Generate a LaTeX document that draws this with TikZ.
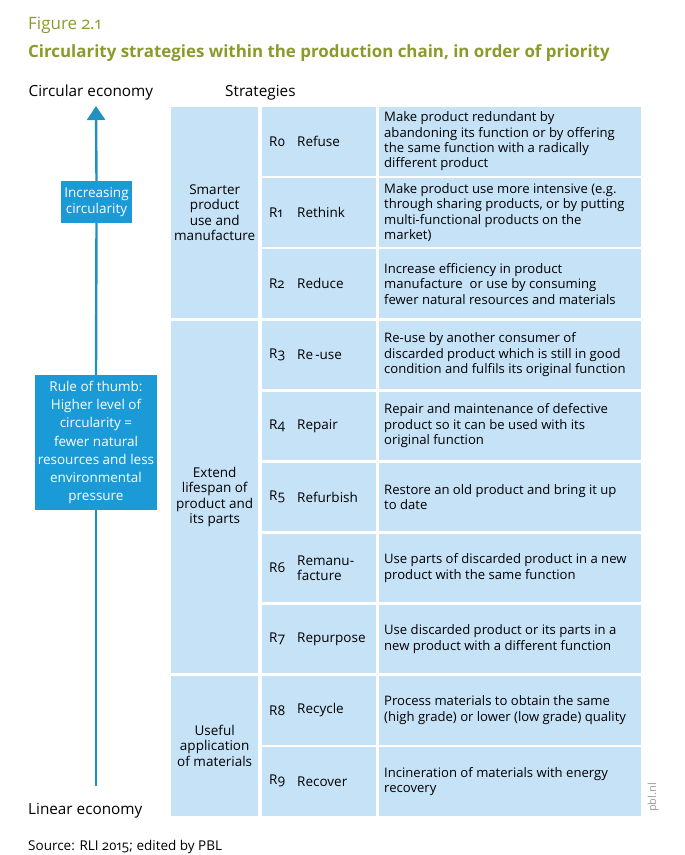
\documentclass[tikz,border=0pt]{standalone}
\usepackage{fontspec}
\setmainfont{Open Sans}[Numbers=OldStyle]
\usetikzlibrary{arrows.meta}
\definecolor{cellblue}{HTML}{C6E2F7}
\definecolor{boxblue}{HTML}{1A9AD6}
\definecolor{arrowblue}{HTML}{2390C2}
\definecolor{olivetxt}{HTML}{8C9A2C}
\definecolor{graytxt}{HTML}{9A9A9A}
\newcommand{\bodyfont}{\fontsize{13.5}{15.5}\selectfont}
\newcommand{\descfont}{\fontsize{13.1}{15.4}\selectfont}
\newcommand{\rrow}[5]{%
  \node[namecell] (n#1) at (261.5,#2) {};
  \node[rlab] (rn#1) at ([xshift=7.5pt]n#1.west) {R#3};
  \node[rlab, align=left] (rt#1) at ([xshift=35.5pt]n#1.west) {#4};
  \node[desccell] (d#1) at (379,#2) {};
  \node[desctext] (dt#1) at ([xshift=5pt]d#1.west) {#5};
}
\begin{document}
\begin{tikzpicture}[x=1pt,y=-1pt,
  cell/.style={fill=cellblue, draw=none, anchor=north west, inner sep=0pt, minimum height=68.5pt},
  groupcell/.style={cell, minimum width=87pt, align=center, font=\bodyfont},
  namecell/.style={cell, minimum width=114.5pt},
  desccell/.style={cell, minimum width=262pt},
  desctext/.style={anchor=west, inner sep=0pt, align=left, font=\descfont},
  rlab/.style={anchor=west, inner sep=0pt, font=\bodyfont},
  darkbox/.style={fill=boxblue, text=white, align=center, inner sep=0pt, font=\bodyfont},
  head/.style={anchor=base west, inner sep=0pt, font=\fontsize{15.3}{18}\selectfont},
]
\useasboundingbox (0,0) rectangle (685,855);
\fill[white] (0,0) rectangle (685,855);

% titles
\node[anchor=base west, inner sep=0pt, text=olivetxt, font=\fontsize{17}{20}\selectfont] (fig) at (28,29) {Figure 2.1};
\node[anchor=base west, inner sep=0pt, text=olivetxt, font=\fontsize{16.9}{20}\selectfont\bfseries] (title) at (28,57) {Circularity strategies within the production chain, in order of priority};
\node[head] (ce) at (28.5,96) {Circular economy};
\node[head] (st) at (225,96) {Strategies};
\node[head] (le) at (28,814) {Linear economy};
\node[anchor=base west, inner sep=0pt, font=\bodyfont] (src) at (28,850) {Source: RLI 2015; edited by PBL};
\node[rotate=90, anchor=base west, inner sep=0pt, text=graytxt, font=\fontsize{11}{13}\selectfont] (pbl) at (656,812) {pbl.nl};

% group cells
\node[groupcell, minimum height=210.7pt] (g1) at (171,107) {Smarter\\product\\use and\\manufacture};
\node[groupcell, minimum height=352.9pt] (g2) at (171,320.3) {Extend\\lifespan of\\product and\\its parts};
\node[groupcell, minimum height=139.6pt] (g3) at (171,675.8) {Useful\\application\\of materials};

% rows
\rrow{0}{107}{0}{Refuse}{Make product redundant by\\abandoning its function or by offering\\the same function with a radically\\different product}
\rrow{1}{178.1}{1}{Rethink}{Make product use more intensive (e.g.\\through sharing products, or by putting\\multi-functional products on the\\market)}
\rrow{2}{249.2}{2}{Reduce}{Increase efficiency in product\\manufacture\ \ or use by consuming\\fewer natural resources and materials}
\rrow{3}{320.3}{3}{Re\,-use}{Re-use by another consumer of\\discarded product which is still in good\\condition and fulfils its original function}
\rrow{4}{391.4}{4}{Repair}{Repair and maintenance of defective\\product so it can be used with its\\original function}
\rrow{5}{462.5}{5}{Refurbish}{Restore an old product and bring it up\\to date}
\rrow{6}{533.6}{6}{Remanu-\\facture}{Use parts of discarded product in a new\\product with the same function}
\rrow{7}{604.7}{7}{Repurpose}{Use discarded product or its parts in a\\new product with a different function}
\rrow{8}{675.8}{8}{Recycle}{Process materials to obtain the same\\(high grade) or lower (low grade) quality}
\rrow{9}{746.9}{9}{Recover}{Incineration of materials with energy\\recovery}

% left axis
\node[darkbox, minimum width=71pt, minimum height=42pt] (inc) at (96.5,202) {Increasing\\circularity};
\node[darkbox, minimum width=122pt, minimum height=135pt, font=\fontsize{13.5}{18.3}\selectfont] (rule) at (96,442.5) {Rule of thumb:\\Higher level of\\circularity =\\fewer natural\\resources and less\\environmental\\pressure};
\coordinate (abot) at (96,786);
\coordinate (atop) at (96,106);
\draw[arrowblue, line width=2.4pt] (abot) -- (rule.south);
\draw[arrowblue, line width=2.4pt] (rule.north) -- (inc.south);
\draw[arrowblue, line width=2.4pt, -{Triangle[width=18pt,length=14pt]}] (inc.north) -- (atop);
\end{tikzpicture}
\end{document}
